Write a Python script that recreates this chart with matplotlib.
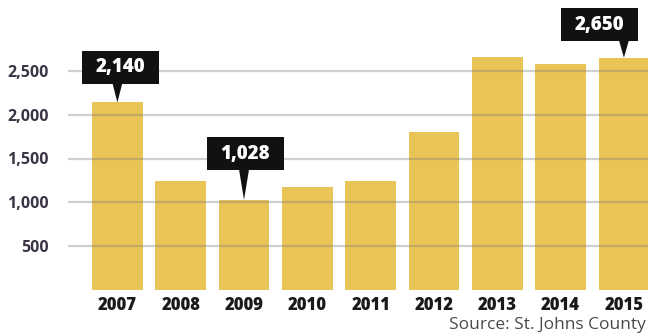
import matplotlib
matplotlib.use("Agg")
import matplotlib.pyplot as plt
from matplotlib.patches import Rectangle, Polygon
from matplotlib.transforms import IdentityTransform

years = ["2007", "2008", "2009", "2010", "2011", "2012", "2013", "2014", "2015"]
values = [2140, 1240, 1028, 1170, 1240, 1800, 2660, 2580, 2650]
callout_years = ["2007", "2009", "2015"]
callout_labels = ["2,140", "1,028", "2,650"]
yticks = [500, 1000, 1500, 2000, 2500]
ytick_labels = ["500", "1,000", "1,500", "2,000", "2,500"]

plt.rcParams['font.family'] = ['Open Sans', 'DejaVu Sans']

fig = plt.figure(figsize=(6.48, 3.35), dpi=100)
W, H = 648, 335
ax = fig.add_axes([68 / W, (H - 290) / H, (W - 68) / W, (290 - 27) / H])

x = list(range(len(years)))
ax.bar(x, values, width=0.8, color="#E9C457", zorder=1)
ax.set_xlim(-0.78, 8.38)
ax.set_ylim(0, 3000)

for t in yticks:
    ax.axhline(t, color="#7a7a7a", alpha=0.35, lw=1.6, zorder=2)

ax.set_yticks(yticks)
ax.set_yticklabels(ytick_labels)
ax.set_xticks(x)
ax.set_xticklabels(years)
for s in ax.spines.values():
    s.set_visible(False)
ax.tick_params(axis='y', length=0, pad=14, labelsize=11.5, labelcolor="#3a3444")
ax.tick_params(axis='x', length=0, pad=5, labelsize=12, labelcolor="#1a1a1a")
for lbl in ax.get_yticklabels():
    lbl.set_fontweight('bold')
for lbl in ax.get_xticklabels():
    lbl.set_fontweight('heavy')

# callout boxes (offsets in pixels relative to bar top)
box_w, box_h, ptr_w = 77, 33, 10
offsets = {"2007": (3, 35), "2009": (1, 46), "2015": (-24, 33)}
ident = IdentityTransform()
for yr, lab in zip(callout_years, callout_labels):
    i = years.index(yr)
    px, py = ax.transData.transform((i, values[i]))
    dx, dy = offsets[yr]
    cx, cy = px + dx, py + dy
    ax.add_artist(Rectangle((cx - box_w / 2, cy - box_h / 2), box_w, box_h,
                            transform=ident, fc='#111111', ec='none',
                            zorder=5, clip_on=False))
    ax.add_artist(Polygon([(px - ptr_w / 2, cy - box_h / 2 + 1),
                           (px + ptr_w / 2, cy - box_h / 2 + 1),
                           (px, py)], closed=True, transform=ident,
                          fc='#111111', ec='none', zorder=5, clip_on=False))
    ax.text(cx, cy, lab, transform=ident, ha='center', va='center',
            color='white', fontsize=13.5, fontweight='heavy', zorder=6,
            clip_on=False)

fig.text(1 - 2 / W, 2 / H, "Source: St. Johns County", ha='right', va='bottom',
         fontsize=12.5, color="#4a4a4a")

fig.savefig("out.png", dpi=100)
